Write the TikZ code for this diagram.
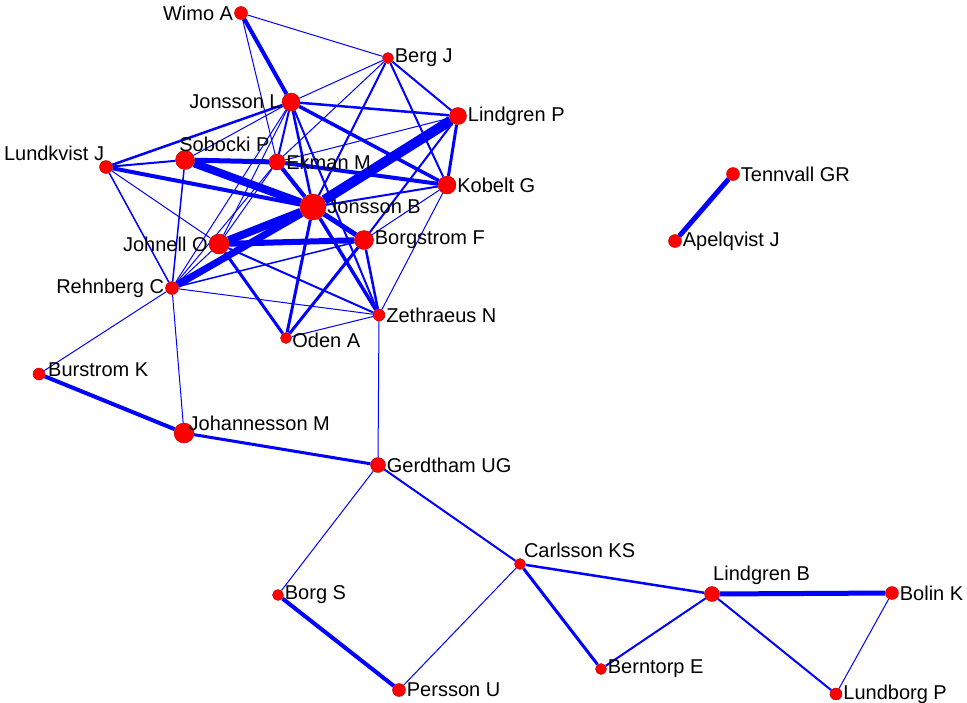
\documentclass[tikz,border=0pt]{standalone}
\usepackage{fontspec}
\setmainfont{Liberation Sans}
\usepackage{tikz}
\usetikzlibrary{backgrounds}

\begin{document}
\begin{tikzpicture}[
			x=1pt, y=-1pt,
			au/.style={circle, draw=red!70!black, line width=0.4pt, fill=red, inner sep=0pt, minimum size=#1pt},
			au/.default=12,
			lbl/.style={font=\fontsize{20}{22}\selectfont, inner sep=1pt, text=black},
			every label/.style={lbl},
			label distance=0pt,
			e/.style={draw=blue, line width=#1pt},
			e/.default=1,
			]
			\useasboundingbox (0,0) rectangle (967,702);
			
			% authors
			\node[au=13, label=left:Wimo A] (wimoA) at (241,13) {};
			\node[au=11, label=right:Berg J] (bergJ) at (388,58) {};
			\node[au=18, label=left:Jonsson L] (jonssonL) at (291,102) {};
			\node[au=17, label=right:Lindgren P] (lindgrenP) at (458,116) {};
			\node[au=13, label={[xshift=4pt]above left:Lundkvist J}] (lundkvistJ) at (106,167) {};
			\node[au=19, label={[anchor=south west]north west:Sobocki P}] (sobockiP) at (185,160) {};
			\node[au=16, label=right:Ekman M] (ekmanM) at (277,162) {};
			\node[au=18, label=right:Kobelt G] (kobeltG) at (447,185) {};
			\node[au=26, label=right:Jonsson B] (jonssonB) at (313,207) {};
			\node[au=20, label=left:Johnell O] (johnellO) at (219,244) {};
			\node[au=19, label=right:Borgstrom F] (borgstromF) at (364,240) {};
			\node[au=13, label=left:Rehnberg C] (rehnbergC) at (172,288) {};
			\node[au=12, label=right:Zethraeus N] (zethraeusN) at (379,315) {};
			\node[au=11, label={[anchor=west]-25:Oden A}] (odenA) at (286,338) {};
			\node[au=12, label={[anchor=west,label distance=3pt]30:Burstrom K}] (burstromK) at (39,374) {};
			\node[au=20, label={[anchor=west]70:Johannesson M}] (johannessonM) at (184,433) {};
			\node[au=15, label=right:Gerdtham UG] (gerdthamUG) at (378,465) {};
			\node[au=13, label=right:Tennvall GR] (tennvallGR) at (733,174) {};
			\node[au=13, label=right:Apelqvist J] (apelqvistJ) at (675,241) {};
			\node[au=11, label={[anchor=south west]60:Carlsson KS}] (carlssonKS) at (520,564) {};
			\node[au=15, label={[anchor=south west]north:Lindgren B}] (lindgrenB) at (712,594) {};
			\node[au=13, label=right:Bolin K] (bolinK) at (892,593) {};
			\node[au=11, label=right:Borg S] (borgS) at (278,595) {};
			\node[au=11, label=right:Berntorp E] (berntorpE) at (601,669) {};
			\node[au=13, label=right:Persson U] (perssonU) at (399,690) {};
			\node[au=12, label=right:Lundborg P] (lundborgP) at (836,694) {};
			
			% co-authorships
			\begin{pgfonlayer}{background}
				\draw[e=4] (wimoA) -- (jonssonL);
				\draw[e] (wimoA) -- (bergJ);
				\draw[e] (wimoA) -- (ekmanM);
				\draw[e] (bergJ) -- (jonssonL);
				\draw[e] (bergJ) -- (ekmanM);
				\draw[e=2] (bergJ) -- (lindgrenP);
				\draw[e=2] (bergJ) -- (kobeltG);
				\draw[e=2] (bergJ) -- (jonssonB);
				\draw[e=2.5] (jonssonL) -- (lindgrenP);
				\draw[e=2.5] (jonssonL) -- (lundkvistJ);
				\draw[e] (jonssonL) -- (sobockiP);
				\draw[e=2] (jonssonL) -- (ekmanM);
				\draw[e=2.5] (jonssonL) -- (jonssonB);
				\draw[e=3.5] (jonssonL) -- (kobeltG);
				\draw[e] (jonssonL) -- (johnellO);
				\draw[e] (jonssonL) -- (rehnbergC);
				\draw[e=2] (jonssonL) -- (zethraeusN);
				\draw[e=10] (lindgrenP) -- (jonssonB);
				\draw[e=3] (lindgrenP) -- (kobeltG);
				\draw[e] (lindgrenP) -- (ekmanM);
				\draw[e=2] (lindgrenP) -- (borgstromF);
				\draw[e=2] (lundkvistJ) -- (sobockiP);
				\draw[e=4] (lundkvistJ) -- (jonssonB);
				\draw[e=1.5] (lundkvistJ) -- (rehnbergC);
				\draw[e] (lundkvistJ) -- (johnellO);
				\draw[e=5] (sobockiP) -- (ekmanM);
				\draw[e=8] (sobockiP) -- (jonssonB);
				\draw[e=1.5] (sobockiP) -- (rehnbergC);
				\draw[e=4] (ekmanM) -- (kobeltG);
				\draw[e=4] (ekmanM) -- (jonssonB);
				\draw[e] (ekmanM) -- (rehnbergC);
				\draw[e] (ekmanM) -- (johnellO);
				\draw[e=2] (kobeltG) -- (jonssonB);
				\draw[e] (kobeltG) -- (borgstromF);
				\draw[e] (kobeltG) -- (zethraeusN);
				\draw[e=8] (jonssonB) -- (johnellO);
				\draw[e=7] (jonssonB) -- (rehnbergC);
				\draw[e=5] (jonssonB) -- (borgstromF);
				\draw[e=3.5] (jonssonB) -- (zethraeusN);
				\draw[e=3] (jonssonB) -- (odenA);
				\draw[e=6] (johnellO) -- (borgstromF);
				\draw[e=3] (johnellO) -- (odenA);
				\draw[e=2] (johnellO) -- (zethraeusN);
				\draw[e] (johnellO) -- (rehnbergC);
				\draw[e=3] (borgstromF) -- (odenA);
				\draw[e=2.5] (borgstromF) -- (zethraeusN);
				\draw[e=1.5] (borgstromF) -- (rehnbergC);
				\draw[e] (rehnbergC) -- (zethraeusN);
				\draw[e] (odenA) -- (zethraeusN);
				\draw[e] (rehnbergC) -- (burstromK);
				\draw[e] (rehnbergC) -- (johannessonM);
				\draw[e=4] (burstromK) -- (johannessonM);
				\draw[e=3] (johannessonM) -- (gerdthamUG);
				\draw[e] (zethraeusN) -- (gerdthamUG);
				\draw[e] (gerdthamUG) -- (borgS);
				\draw[e=2] (gerdthamUG) -- (carlssonKS);
				\draw[e] (carlssonKS) -- (perssonU);
				\draw[e=2.5] (carlssonKS) -- (lindgrenB);
				\draw[e=3] (carlssonKS) -- (berntorpE);
				\draw[e=2] (lindgrenB) -- (berntorpE);
				\draw[e=5] (lindgrenB) -- (bolinK);
				\draw[e=2] (lindgrenB) -- (lundborgP);
				\draw[e] (bolinK) -- (lundborgP);
				\draw[e=4] (borgS) -- (perssonU);
				\draw[e=5] (tennvallGR) -- (apelqvistJ);
			\end{pgfonlayer}
			
		\end{tikzpicture}
\end{document}
